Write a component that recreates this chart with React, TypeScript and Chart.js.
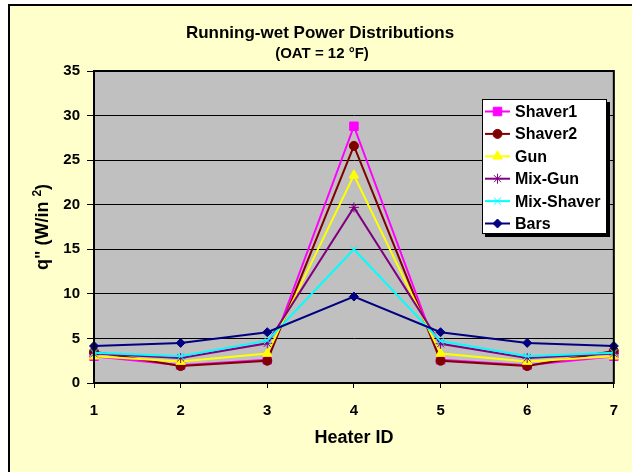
import React, { useEffect, useRef } from 'react';
import { Chart, registerables } from 'chart.js';
import { drawPoint } from 'chart.js/helpers';

Chart.register(...registerables);

// ---- data ----
const heaterIds = ['1', '2', '3', '4', '5', '6', '7'];
const seriesNames = ['Shaver1', 'Shaver2', 'Gun', 'Mix-Gun', 'Mix-Shaver', 'Bars'];
const shaver1 = [3.0, 2.0, 2.6, 28.8, 2.6, 2.0, 3.0];
const shaver2 = [3.5, 1.9, 2.5, 26.6, 2.5, 1.9, 3.6];
const gun = [3.0, 2.4, 3.3, 23.3, 3.3, 2.4, 3.0];
const mixGun = [3.3, 2.8, 4.45, 19.7, 4.4, 2.8, 3.3];
const mixShaver = [3.4, 3.0, 4.75, 15.0, 4.7, 3.0, 3.4];
const bars = [4.15, 4.5, 5.7, 9.7, 5.7, 4.5, 4.15];
const yMin = 0;
const yMax = 35;
const yStep = 5;

const titleText = 'Running-wet Power Distributions';
const subtitleText = '(OAT = 12 °F)';
const xTitle = 'Heater ID';
const yTitleMain = 'q" (W/in ';
const yTitleSup = '2';
const yTitleEnd = ')';

// ---- styles ----
const FONT = '"Liberation Sans", Arial, sans-serif';
const seriesValues = [shaver1, shaver2, gun, mixGun, mixShaver, bars];
const colors = ['#FF00FF', '#800000', '#FFFF00', '#800080', '#00FFFF', '#000080'];
const pointStyles = ['rect', 'circle', 'triangle', 'star', 'crossRot', 'rectRot'];
const radii = [6, 4.5, 5.5, 5, 5, 4.5];

const W = 632;
const H = 472;
const PLOT_LEFT = 94;
const PLOT_RIGHT = 614;
const PLOT_TOP = 71;
const PLOT_BOTTOM = 383;

const decorPlugin = {
  id: 'decor',
  beforeDraw(chart: any) {
    const { ctx, chartArea } = chart;
    ctx.save();
    ctx.fillStyle = '#C0C0C0';
    ctx.fillRect(chartArea.left, chartArea.top, chartArea.right - chartArea.left, chartArea.bottom - chartArea.top);
    ctx.restore();
  },
  afterDraw(chart: any) {
    const { ctx, chartArea } = chart;
    const { left, top, right, bottom } = chartArea;
    ctx.save();
    // plot border
    ctx.strokeStyle = '#000';
    ctx.lineWidth = 2;
    ctx.strokeRect(left, top, right - left, bottom - top);

    // titles
    ctx.fillStyle = '#000';
    ctx.textAlign = 'center';
    ctx.textBaseline = 'middle';
    ctx.font = `bold 17px ${FONT}`;
    ctx.fillText(titleText, 320, 33);
    ctx.font = `bold 15px ${FONT}`;
    ctx.fillText(subtitleText, 322, 54);

    // x title
    ctx.font = `bold 18px ${FONT}`;
    ctx.fillText(xTitle, (left + right) / 2, 438);

    // y title (rotated, with superscript)
    ctx.save();
    ctx.translate(42, (top + bottom) / 2);
    ctx.rotate(-Math.PI / 2);
    ctx.textAlign = 'left';
    ctx.textBaseline = 'alphabetic';
    ctx.font = `bold 18px ${FONT}`;
    const wMain = ctx.measureText(yTitleMain).width;
    const wEnd = ctx.measureText(yTitleEnd).width;
    ctx.font = `bold 12px ${FONT}`;
    const wSup = ctx.measureText(yTitleSup).width;
    const total = wMain + wSup + wEnd;
    let x0 = -total / 2;
    const base = 6;
    ctx.font = `bold 18px ${FONT}`;
    ctx.fillText(yTitleMain, x0, base);
    x0 += wMain;
    ctx.font = `bold 12px ${FONT}`;
    ctx.fillText(yTitleSup, x0, base - 7);
    x0 += wSup;
    ctx.font = `bold 18px ${FONT}`;
    ctx.fillText(yTitleEnd, x0, base);
    ctx.restore();

    // legend
    const lx = 482, ly = 99, lw = 125, lh = 135;
    ctx.fillStyle = '#000';
    ctx.fillRect(lx + 3, ly + 3, lw, lh);
    ctx.fillStyle = '#FFFFFF';
    ctx.fillRect(lx, ly, lw, lh);
    ctx.lineWidth = 1;
    ctx.strokeStyle = '#000';
    ctx.strokeRect(lx + 0.5, ly + 0.5, lw - 1, lh - 1);
    chart.data.datasets.forEach((ds: any, i: number) => {
      const y = ly + 12.5 + i * 22.4;
      ctx.strokeStyle = ds.borderColor;
      ctx.lineWidth = 2;
      ctx.beginPath();
      ctx.moveTo(485, y);
      ctx.lineTo(510, y);
      ctx.stroke();
      ctx.fillStyle = ds.pointBackgroundColor;
      ctx.strokeStyle = ds.pointBorderColor;
      ctx.lineWidth = 1;
      drawPoint(ctx, { pointStyle: ds.pointStyle, radius: ds.pointRadius, rotation: 0, borderWidth: 1 }, 497.5, y);
      ctx.fillStyle = '#000';
      ctx.font = `bold 16px ${FONT}`;
      ctx.textAlign = 'left';
      ctx.textBaseline = 'middle';
      ctx.fillText(ds.label, 515, y + 1);
    });
    ctx.restore();
  },
};

export default function App() {
  const canvasRef = useRef<HTMLCanvasElement | null>(null);

  useEffect(() => {
    const canvas = canvasRef.current;
    if (!canvas) return;
    const datasets = seriesNames.map((name, i) => ({
      label: name,
      data: seriesValues[i],
      borderColor: colors[i],
      backgroundColor: colors[i],
      pointBackgroundColor: colors[i],
      pointBorderColor: colors[i],
      pointStyle: pointStyles[i],
      pointRadius: radii[i],
      pointBorderWidth: 1,
      borderWidth: 2,
      tension: 0,
      clip: false as any,
      order: seriesNames.length - i,
    }));
    const chart = new Chart(canvas, {
      type: 'line',
      data: { labels: heaterIds, datasets },
      options: {
        animation: false,
        responsive: false,
        devicePixelRatio: 1,
        layout: { padding: { left: 0, right: W - PLOT_RIGHT, top: PLOT_TOP, bottom: 0 } },
        plugins: { legend: { display: false }, title: { display: false }, tooltip: { enabled: false } },
        events: [],
        scales: {
          x: {
            type: 'category',
            offset: false,
            afterFit: (scale: any) => { scale.height = H - PLOT_BOTTOM; },
            grid: { drawOnChartArea: false, drawTicks: true, tickLength: 5, color: '#000', tickColor: '#000' },
            border: { display: true, color: '#000', width: 2 },
            ticks: { color: '#000', font: { family: FONT, size: 15, weight: 'bold' }, padding: 14, maxRotation: 0 },
          },
          y: {
            type: 'linear',
            min: yMin,
            max: yMax,
            afterFit: (scale: any) => { scale.width = PLOT_LEFT; },
            grid: { color: '#000', lineWidth: 1, tickLength: 7, tickColor: '#000' },
            border: { display: true, color: '#000', width: 2 },
            ticks: { stepSize: yStep, color: '#000', font: { family: FONT, size: 15, weight: 'bold' }, padding: 7 },
          },
        },
      },
      plugins: [decorPlugin],
    } as any);
    return () => chart.destroy();
  }, []);

  return (
    <div style={{ position: 'absolute', left: 0, top: 0, width: W, height: H, background: '#FFFFFF', overflow: 'hidden' }}>
      <div style={{ position: 'absolute', left: 8, top: 4, width: W - 8, height: H - 4, background: '#FFFFCC', borderLeft: '2px solid #000', borderTop: '2px solid #000', boxSizing: 'border-box' }} />
      <canvas ref={canvasRef} width={W} height={H} style={{ position: 'absolute', left: 0, top: 0, width: W, height: H }} />
    </div>
  );
}
